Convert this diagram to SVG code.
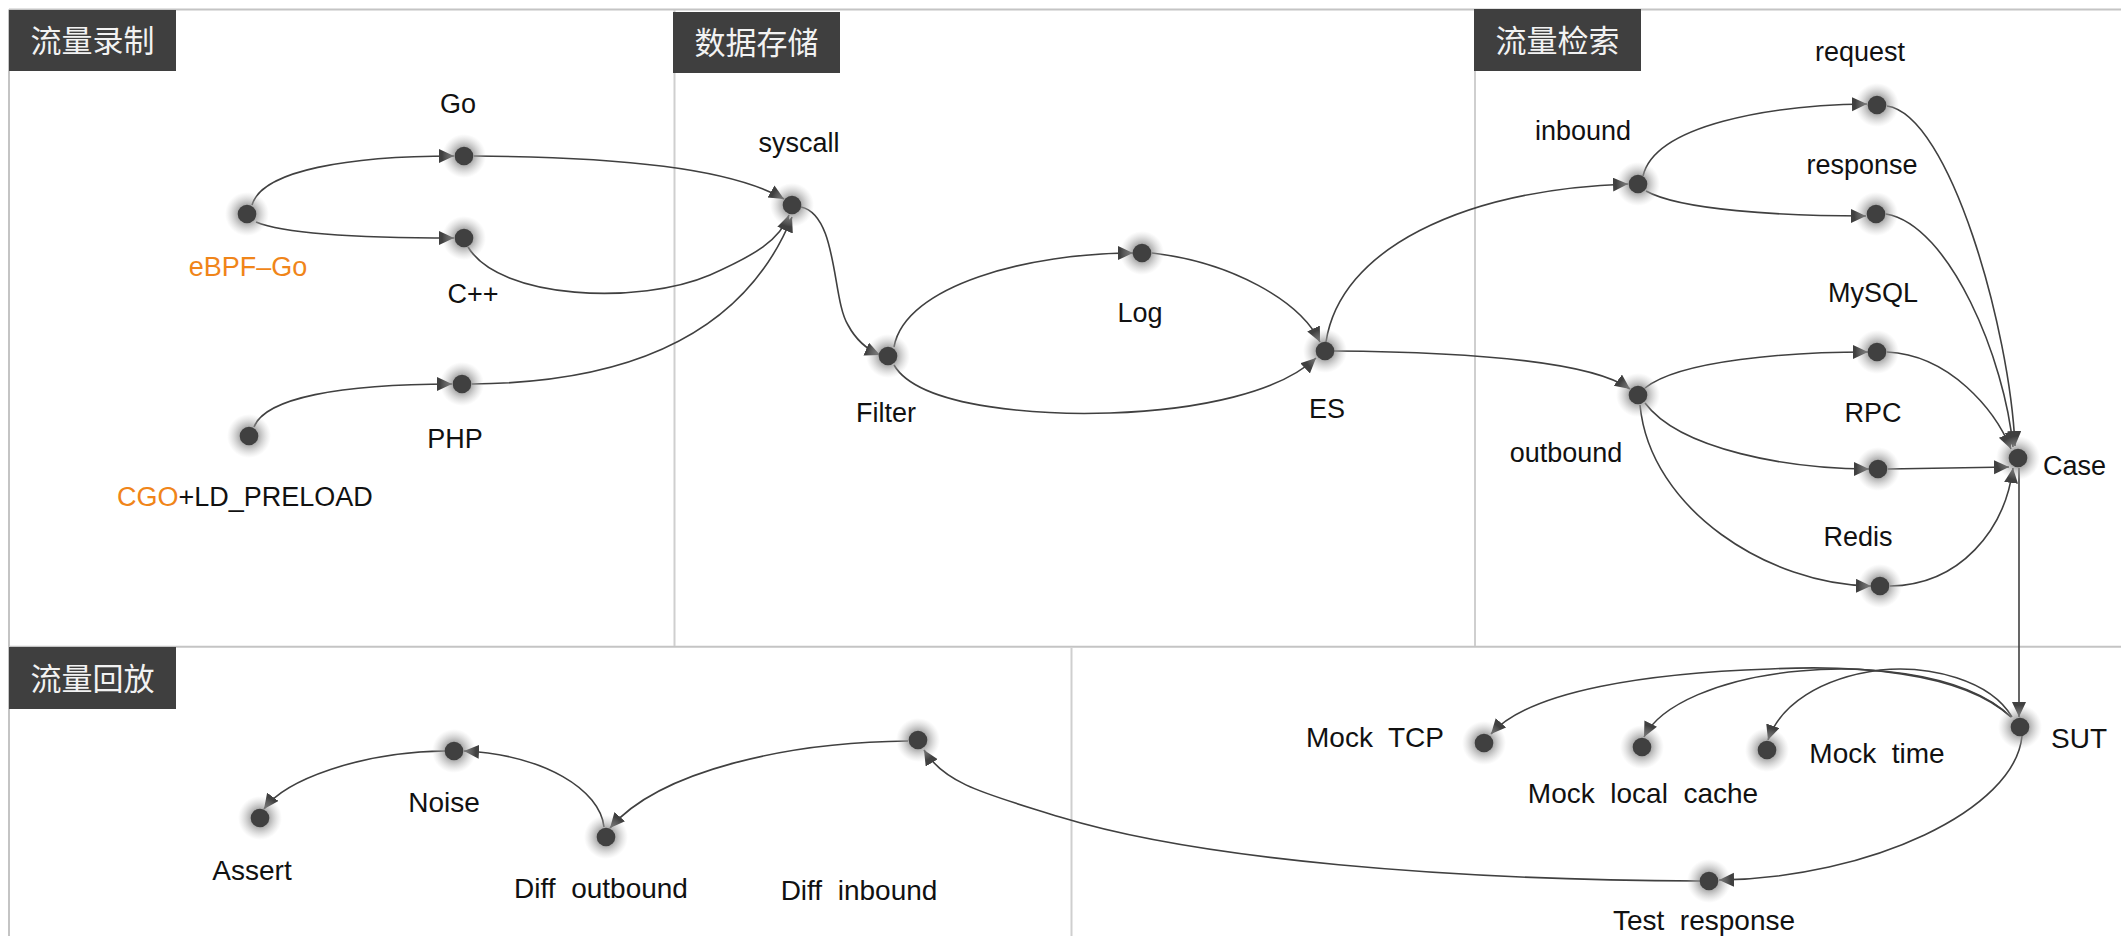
<svg xmlns="http://www.w3.org/2000/svg" width="2121" height="936" viewBox="0 0 2121 936">
<style>
.frame{stroke:#c4c4c4;stroke-width:2;fill:none}
.div{stroke:#cfcfcf;stroke-width:2;fill:none}
.hdr{fill:#3f3f3f}
.htxt{fill:#f2f2f2;font-family:"Noto Sans CJK SC","Noto Sans",sans-serif;font-size:31px;text-anchor:middle}
.dot{fill:#404040}
.glow{fill:url(#glow)}
.lbl{fill:#111;font-family:"Liberation Sans",Arial,sans-serif;font-size:27px;text-anchor:middle;white-space:pre}
.lb2{fill:#111;font-family:"Liberation Sans",Arial,sans-serif;font-size:28px;text-anchor:middle;white-space:pre}
.org{fill:#f08519}
.e{fill:none;stroke:#404040;stroke-width:1.6;marker-end:url(#arr)}
</style>
<defs>
<radialGradient id="glow">
<stop offset="0.4" stop-color="#8c8c8c" stop-opacity="0.75"/>
<stop offset="1" stop-color="#bdbdbd" stop-opacity="0"/>
</radialGradient>
<marker id="arr" markerUnits="userSpaceOnUse" markerWidth="16" markerHeight="15" refX="15" refY="7" orient="auto">
<path d="M0,0 L15,7 L0,14 z" fill="#404040"/>
</marker>
<g id="n"><circle class="glow" r="22"/><circle class="dot" r="9.3"/></g>
</defs>
<rect width="2121" height="936" fill="#fff"/>
<g id="frame">
<line class="frame" x1="9" y1="9.5" x2="2121" y2="9.5"/>
<line class="frame" x1="9" y1="9.5" x2="9" y2="936"/>
<line class="frame" x1="9" y1="646.7" x2="2121" y2="646.7"/>
<line class="div" x1="674.5" y1="10" x2="674.5" y2="646"/>
<line class="div" x1="1475" y1="10" x2="1475" y2="646"/>
<line class="div" x1="1071.5" y1="648" x2="1071.5" y2="936"/>
</g>
<g id="h1"><rect class="hdr" x="9" y="10" width="167" height="61"/><text class="htxt" x="92.5" y="52">流量录制</text></g>
<g id="h2"><rect class="hdr" x="673" y="12" width="167" height="61"/><text class="htxt" x="756.5" y="54">数据存储</text></g>
<g id="h3"><rect class="hdr" x="1474" y="9" width="167" height="62"/><text class="htxt" x="1557.5" y="52">流量检索</text></g>
<g id="h4"><rect class="hdr" x="9" y="647" width="167" height="62"/><text class="htxt" x="92.5" y="690">流量回放</text></g>
<g id="connectors">
<path class="e" d="M252,205 C262,170 350,156 454,156"/>
<path class="e" d="M256,222 C285,234 360,238 454,238"/>
<path class="e" d="M474,156 C620,157 730,168 784,199"/>
<path class="e" d="M468,247 C500,300 640,305 710,275 C755,255 780,240 789,215"/>
<path class="e" d="M472,384 C610,383 740,345 792,217"/>
<path class="e" d="M254,427 C265,398 340,384 452,384"/>
<path class="e" d="M801,207 C838,215 832,300 848,325 C856,340 866,349 880,355"/>
<path class="e" d="M894,347 C905,285 1030,253 1133,253"/>
<path class="e" d="M894,365 C920,410 1050,415 1110,413 C1200,410 1280,392 1316,358"/>
<path class="e" d="M1152,253 C1230,262 1300,300 1320,342"/>
<path class="e" d="M1326,342 C1340,250 1460,190 1628,184"/>
<path class="e" d="M1334,351 C1460,352 1590,360 1630,389"/>
<path class="e" d="M1643,176 C1655,125 1770,105 1867,104"/>
<path class="e" d="M1646,191 C1680,210 1780,216 1866,216"/>
<path class="e" d="M1645,388 C1680,360 1790,352 1868,352"/>
<path class="e" d="M1645,403 C1680,450 1790,469 1869,469"/>
<path class="e" d="M1640,405 C1650,510 1770,585 1871,586"/>
<path class="e" d="M1887,106 C1950,115 2010,330 2015,446"/>
<path class="e" d="M1886,214 C1950,225 2005,360 2013,447"/>
<path class="e" d="M1887,352 C1950,355 1995,410 2011,449"/>
<path class="e" d="M1888,469 L2009,467"/>
<path class="e" d="M1890,586 C1960,585 2005,530 2013,468"/>
<path class="e" d="M2019,468 L2019,717"/>
<path class="e" d="M2011,717 C1960,670 1850,665 1770,669 C1650,673 1530,690 1491,734"/>
<path class="e" d="M2011,717 C1960,668 1850,666 1800,671 C1720,678 1660,705 1644,737"/>
<path class="e" d="M2012,717 C1990,680 1930,665 1880,670 C1820,678 1780,705 1768,740"/>
<path class="e" d="M2022,736 C2015,810 1870,878 1719,880"/>
<path class="e" d="M1700,881 C1450,880 1200,860 1060,817 C990,795 945,785 924,750"/>
<path class="e" d="M908,741 C790,742 660,770 610,828"/>
<path class="e" d="M604,827 C600,790 545,755 464,751"/>
<path class="e" d="M445,751 C360,752 285,780 264,809"/>
</g>
<g id="go"><use href="#n" x="464" y="156"/><text class="lbl" x="458" y="113">Go</text></g>
<g id="ebpf"><use href="#n" x="247" y="214"/><text class="lbl org" x="248" y="276">eBPF–Go</text></g>
<g id="cpp"><use href="#n" x="464" y="238"/><text class="lbl" x="473" y="303">C++</text></g>
<g id="php"><use href="#n" x="462" y="384"/><text class="lbl" x="455" y="448">PHP</text></g>
<g id="cgo"><use href="#n" x="249" y="436"/><text class="lbl" x="117" y="506" style="text-anchor:start"><tspan class="org">CGO</tspan>+LD_PRELOAD</text></g>
<g id="syscall"><use href="#n" x="792" y="205"/><text class="lbl" x="799" y="152">syscall</text></g>
<g id="filter"><use href="#n" x="888" y="356"/><text class="lbl" x="886" y="422">Filter</text></g>
<g id="log"><use href="#n" x="1142" y="253"/><text class="lbl" x="1140" y="322">Log</text></g>
<g id="es"><use href="#n" x="1325" y="351"/><text class="lbl" x="1327" y="418">ES</text></g>
<g id="inbound"><use href="#n" x="1638" y="184"/><text class="lbl" x="1583" y="140">inbound</text></g>
<g id="request"><use href="#n" x="1877" y="105"/><text class="lbl" x="1860" y="61">request</text></g>
<g id="response"><use href="#n" x="1876" y="214"/><text class="lbl" x="1862" y="174">response</text></g>
<g id="mysql"><use href="#n" x="1877" y="352"/><text class="lbl" x="1873" y="302">MySQL</text></g>
<g id="outbound"><use href="#n" x="1638" y="395"/><text class="lbl" x="1566" y="462">outbound</text></g>
<g id="rpc"><use href="#n" x="1878" y="469"/><text class="lbl" x="1873" y="422">RPC</text></g>
<g id="redis"><use href="#n" x="1880" y="586"/><text class="lbl" x="1858" y="546">Redis</text></g>
<g id="case"><use href="#n" x="2018" y="458"/><text class="lbl" x="2043" y="475" style="text-anchor:start">Case</text></g>
<g id="sut"><use href="#n" x="2020" y="727"/><text class="lb2" x="2051" y="748" style="text-anchor:start">SUT</text></g>
<g id="mocktcp"><use href="#n" x="1484" y="743"/><text class="lb2" x="1375" y="747">Mock  TCP</text></g>
<g id="mockcache"><use href="#n" x="1642" y="747"/><text class="lb2" x="1643" y="803">Mock  local  cache</text></g>
<g id="mocktime"><use href="#n" x="1767" y="750"/><text class="lb2" x="1877" y="763">Mock  time</text></g>
<g id="testresp"><use href="#n" x="1709" y="881"/><text class="lb2" x="1704" y="930">Test  response</text></g>
<g id="diffin"><use href="#n" x="918" y="740"/><text class="lb2" x="859" y="900">Diff  inbound</text></g>
<g id="diffout"><use href="#n" x="606" y="837"/><text class="lb2" x="601" y="898">Diff  outbound</text></g>
<g id="noise"><use href="#n" x="454" y="751"/><text class="lb2" x="444" y="812">Noise</text></g>
<g id="assert"><use href="#n" x="260" y="818"/><text class="lb2" x="252" y="880">Assert</text></g>
</svg>
